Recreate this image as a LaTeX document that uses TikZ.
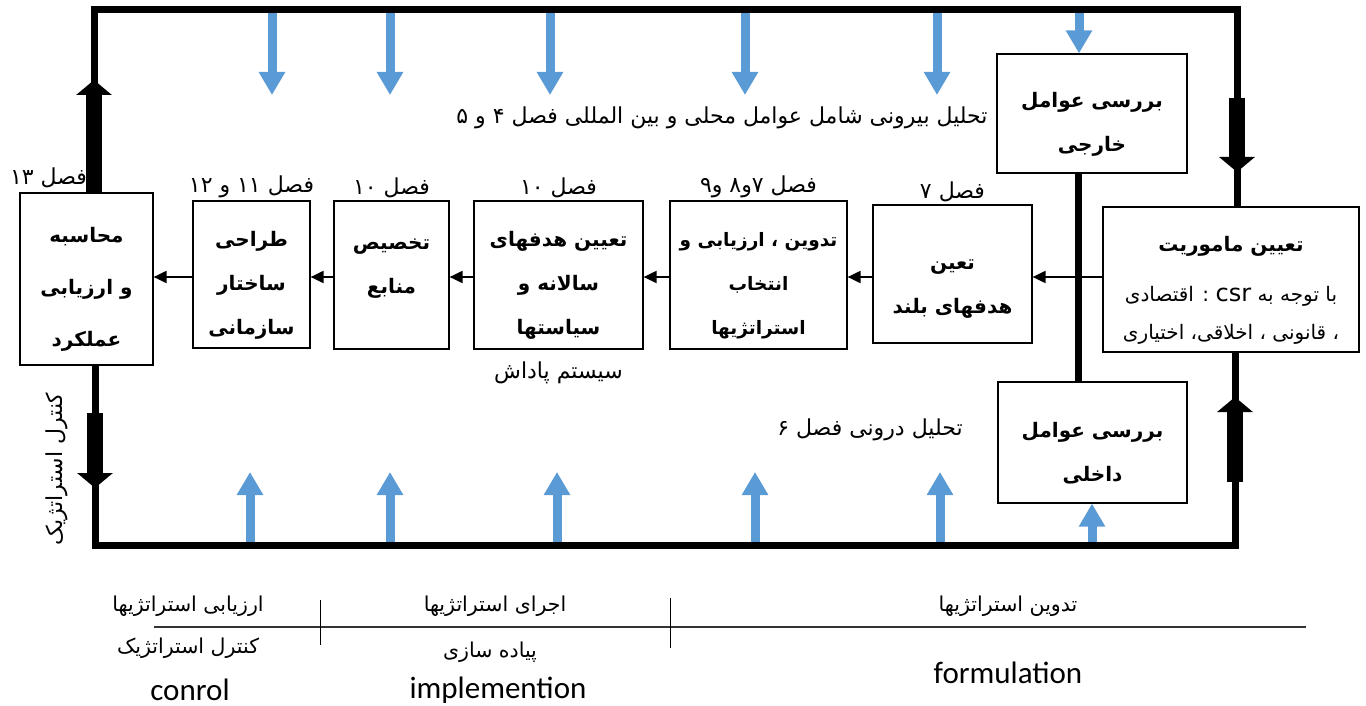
\documentclass[tikz,border=0pt]{standalone}
\usepackage{fontspec}
\setmainfont{Carlito}
\newfontfamily\farsi[Script=Arabic]{DejaVu Sans}
\newfontfamily\farsib[Script=Arabic]{DejaVu Sans Bold}
\usetikzlibrary{arrows.meta,positioning}
\TeXXeTstate=1
\definecolor{bluastro}{HTML}{5B9BD5}
\newcommand{\fatxt}[1]{{\farsi\beginR #1\endR}}
\newcommand{\fabox}[1]{{\farsib\beginR #1\endR}}
\newcommand{\alza}{\rule{0pt}{36pt}}
\newcommand{\boxfont}{\fontsize{20}{44}\selectfont}
\newcommand{\strfont}{\fontsize{18.5}{44}\selectfont}
\newcommand{\valfont}{\fontsize{20}{52}\selectfont}
\newcommand{\misfont}{\fontsize{20}{38}\selectfont}
\newcommand{\labfont}{\fontsize{22}{26}\selectfont}
\newcommand{\fasefont}{\fontsize{20.5}{24}\selectfont}
\newcommand{\latfont}{\fontsize{31}{36}\selectfont}
\newcommand{\csrfont}{\fontsize{24}{30}\selectfont}
\tikzset{
  scatola/.style={draw, line width=1.2pt, align=center, font=\boxfont, inner sep=0pt},
  etichetta/.style={font=\labfont, inner sep=2pt},
  fase/.style={font=\fasefont, inner sep=2pt},
  freccia/.style={line width=2pt, -{Triangle[length=13pt,width=12pt]}},
  cornice/.style={line width=7pt, line join=miter},
  frecciona/.style={line width=16pt, -{Triangle[length=15pt,width=35pt]}},
  freccia blu/.style={draw=bluastro, line width=9pt, -{Triangle[length=23pt,width=25pt]}},
}
\begin{document}
\begin{tikzpicture}[x=1pt,y=-1pt]
    \useasboundingbox (0,0) rectangle (1366,706);

    % Scatole della catena (da destra a sinistra)
    \node[scatola, minimum width=256pt, minimum height=145pt, font=\misfont](nmis) at (1231,279.5)
        {\alza\fabox{تعیین ماموریت}\\[12pt]\fatxt{با توجه به  \beginL{\csrfont csr}\endL{} : اقتصادی}\\\fatxt{، قانونی ، اخلاقی، اختیاری}};
    \node[scatola, minimum width=159pt, minimum height=138pt,
        label={[etichetta]above:{\fatxt{فصل ۷}}}](nobl) at (952.5,274)
        {\rule{0pt}{40pt}\fabox{تعین}\\\fabox{هدفهای بلند}};
    \node[scatola, minimum width=177pt, minimum height=148pt, font=\strfont,
        label={[etichetta]above:{\fatxt{فصل ۷و۸ و۹}}}](nstr) at (758.5,275)
        {\alza\fabox{تدوین ، ارزیابی و}\\\fabox{انتخاب}\\\fabox{استراتژیها}};
    \node[scatola, minimum width=169pt, minimum height=148pt,
        label={[etichetta]above:{\fatxt{فصل ۱۰}}},
        label={[etichetta, label distance=10pt]below:{\fatxt{سیستم پاداش}}}](nann) at (558.5,275)
        {\alza\fabox{تعیین هدفهای}\\\fabox{سالانه و}\\\fabox{سیاستها}};
    \node[scatola, minimum width=115pt, minimum height=148pt,
        label={[etichetta]above:{\fatxt{فصل ۱۰}}}](nris) at (391.5,275)
        {\alza\fabox{تخصیص}\\\fabox{منابع}\\\mbox{}};
    \node[scatola, minimum width=117pt, minimum height=147pt,
        label={[etichetta]above:{\fatxt{فصل ۱۱ و ۱۲}}}](norg) at (251.5,274.5)
        {\alza\fabox{طراحی}\\\fabox{ساختار}\\\fabox{سازمانی}};
    \node[scatola, minimum width=133pt, minimum height=172pt, font=\valfont,
        label={[etichetta, xshift=-38pt, label distance=2pt]above:{\fatxt{فصل ۱۳}}}](nval) at (86.5,279)
        {\alza\fabox{محاسبه}\\\fabox{و ارزیابی}\\\fabox{عملکرد}};

    % Scatole dei fattori esterni e interni
    \node[scatola, minimum width=190pt, minimum height=119pt](next) at (1092,113.5)
        {\alza\fabox{بررسی عوامل}\\\fabox{خارجی}};
    \node[scatola, minimum width=189pt, minimum height=121pt](nint) at (1092.5,442.5)
        {\alza\fabox{بررسی عوامل}\\\fabox{داخلی}};

    % Testi liberi
    \node[etichetta](tbir) at (722,118) {\fatxt{تحلیل بیرونی  شامل عوامل محلی و بین المللی فصل ۴ و ۵}};
    \node[etichetta](tdar) at (870,430) {\fatxt{تحلیل درونی فصل ۶}};
    \node[etichetta, rotate=90](tctr) at (57,469) {\fatxt{کنترل استراتژیک}};

    % Frecce blu dall'alto e dal basso
    \coordinate (te) at (1079,10);
    \coordinate (be) at (1092,545);
    \foreach \x in {272,390,550,745,937} {
        \coordinate (a\x) at (\x,10);
        \coordinate (b\x) at (\x,95);
        \draw[freccia blu] (a\x) -- (b\x);
    }
    \foreach \x in {250,390,557,755,940} {
        \coordinate (c\x) at (\x,545);
        \coordinate (d\x) at (\x,472);
        \draw[freccia blu] (c\x) -- (d\x);
    }
    \draw[freccia blu] (te) -- (te |- next.north);
    \draw[freccia blu] (be) -- (be |- nint.south);

    % Cornice nera
    \coordinate (tl) at (94,10);
    \coordinate (tr) at (1237,10);
    \coordinate (bl) at (95,545);
    \coordinate (br) at (1235,545);
    \coordinate (vx) at (1078,0);
    \draw[cornice] (tl |- nval.north) -- (tl) -- (tr) -- (tr |- nmis.north);
    \draw[cornice] (bl |- nval.south) -- (bl) -- (br) -- (br |- nmis.south);
    \draw[cornice] (vx |- next.south) -- (vx |- nint.north);

    % Frecce nere grosse
    \coordinate (g1a) at (94,193);   \coordinate (g1b) at (94,80);
    \coordinate (g2a) at (95,413);   \coordinate (g2b) at (95,488);
    \coordinate (g3a) at (1237,98);  \coordinate (g3b) at (1237,172);
    \coordinate (g4a) at (1235,482); \coordinate (g4b) at (1235,397);
    \draw[frecciona] (g1a) -- (g1b);
    \draw[frecciona] (g2a) -- (g2b);
    \draw[frecciona] (g3a) -- (g3b);
    \draw[frecciona] (g4a) -- (g4b);

    % Collegamenti tra le scatole
    \draw[freccia] (nmis.west |- 0,277) -- (nobl.east |- 0,277);
    \draw[freccia] (nobl.west |- 0,277) -- (nstr.east |- 0,277);
    \draw[freccia] (nstr.west |- 0,277) -- (nann.east |- 0,277);
    \draw[freccia] (nann.west |- 0,277) -- (nris.east |- 0,277);
    \draw[freccia] (nris.west |- 0,277) -- (norg.east |- 0,277);
    \draw[freccia] (norg.west |- 0,277) -- (nval.east |- 0,277);

    % Tabella delle fasi in basso
    \coordinate (l1) at (154,627);  \coordinate (l2) at (1306,627);
    \coordinate (s1a) at (320,600); \coordinate (s1b) at (320,645);
    \coordinate (s2a) at (670,598); \coordinate (s2b) at (670,648);
    \draw[line width=1.5pt, black!80] (l1) -- (l2);
    \draw[line width=1pt] (s1a) -- (s1b);
    \draw[line width=1pt] (s2a) -- (s2b);
    \node[fase](f1) at (188,606) {\fatxt{ارزیابی استراتژیها}};
    \node[fase](f2) at (188,648) {\fatxt{کنترل استراتژیک}};
    \node[font=\latfont](f3) at (190,690) {conrol};
    \node[fase](f4) at (495,606) {\fatxt{اجرای استراتژیها}};
    \node[fase](f5) at (490,652) {\fatxt{پیاده سازی}};
    \node[font=\latfont](f6) at (498,690) {implemention};
    \node[fase](f7) at (1008,606) {\fatxt{تدوین استراتژیها}};
    \node[font=\latfont](f8) at (1008,673) {formulation};
\end{tikzpicture}
\end{document}
